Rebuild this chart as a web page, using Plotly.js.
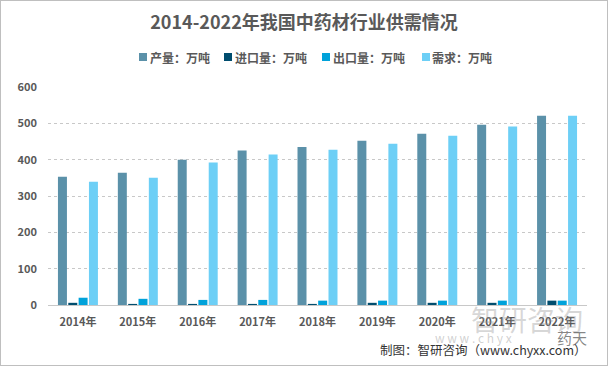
<!DOCTYPE html>
<html>
<head>
<meta charset="utf-8">
<script src="https://cdn.plot.ly/plotly-3.0.1.min.js"></script>
<style>
html,body{margin:0;padding:0;background:#fff;}
#wrap{width:606px;height:364px;border:1px solid #bfbfbf;position:relative;overflow:hidden;}
#chart{width:606px;height:364px;}
</style>
</head>
<body>
<div id="wrap"><div id="chart"></div></div>
<script>
const years = ['2014年','2015年','2016年','2017年','2018年','2019年','2020年','2021年','2022年'];
const production = [353, 364, 400, 425, 435, 452, 471, 496, 521];
const imports = [6, 3, 3, 3, 3, 6, 6, 6, 12];
const exportsV = [20, 17, 14, 14, 12, 12, 12, 12, 12];
const demand = [339, 350, 392, 414, 427, 444, 466, 491, 521];
const seriesNames = ['产量：万吨','进口量：万吨','出口量：万吨','需求：万吨'];
const colors = ['#5B91A9','#004D6E','#00A2DA','#6DCFF6'];

const font = '"Noto Sans CJK SC", "Noto Sans", sans-serif';
const vals = [production, imports, exportsV, demand];
const traces = vals.map((v,i)=>({
  type:'bar', x: years, y: v, name: seriesNames[i],
  marker:{color: colors[i]}, hoverinfo:'skip', showlegend:false
}));

// custom legend (positions in paper coords)
const legSq = [0.1688, 0.3265, 0.5083, 0.6939];
const legTx = [0.1855, 0.3432, 0.5250, 0.7087];
const legY = 1.1376;
const shapes = seriesNames.map((n,i)=>({
  type:'rect', xref:'paper', yref:'paper', xsizemode:'pixel', ysizemode:'pixel',
  xanchor:legSq[i], yanchor:legY, x0:0, x1:8, y0:-4, y1:4,
  fillcolor:colors[i], line:{width:0}
}));
const annotations = seriesNames.map((n,i)=>({
  text:'<b>'+n+'</b>', xref:'paper', yref:'paper', x:legTx[i], y:legY, xanchor:'left', yanchor:'middle',
  showarrow:false, font:{family:font, size:12, color:'#595959'}
}));
annotations.push(
  {text:'智研咨询', xref:'paper', yref:'paper', x:0.782, y:-0.064, xanchor:'left', yanchor:'middle',
   showarrow:false, font:{family:font, size:28, color:'rgba(150,150,150,0.38)'}},
  {text:'w w w . c h y x', xref:'paper', yref:'paper', x:0.715, y:-0.151, xanchor:'left', yanchor:'middle',
   showarrow:false, font:{family:font, size:12, color:'rgba(150,150,150,0.45)'}},
  {text:'药天', xref:'paper', yref:'paper', x:1.0037, y:-0.147, xanchor:'right', yanchor:'middle',
   showarrow:false, font:{family:font, size:15, color:'rgba(80,80,80,0.7)'}},
  {text:'制图：智研咨询（www.chyxx.com）', xref:'paper', yref:'paper', x:1.0037, y:-0.206, xanchor:'right', yanchor:'middle',
   showarrow:false, font:{family:font, size:12.5, color:'#333333'}}
);

const layout = {
  width:606, height:364,
  margin:{l:47, r:20, t:86, b:60},
  paper_bgcolor:'#fff', plot_bgcolor:'#fff',
  barmode:'group', bargap:0.31, bargroupgap:0.13,
  title:{text:'<b>2014-2022年我国中药材行业供需情况</b>', x:0.5, xanchor:'center', y:0.94, yanchor:'middle',
    font:{family:font, size:18, color:'#595959'}},
  showlegend:false,
  xaxis:{type:'category', showgrid:false, showline:false, ticks:'', ticklabelstandoff:9,
    tickfont:{family:font, size:11, color:'#595959', weight:'bold'}},
  yaxis:{range:[0,600], dtick:100, tick0:0, showgrid:true, gridcolor:'#c8c8c8', griddash:'dot',
    zeroline:true, zerolinecolor:'#c8c8c8', ticks:'', ticklabelstandoff:10,
    tickfont:{family:font, size:11, color:'#595959', weight:'bold'}},
  shapes: shapes,
  annotations: annotations
};
Plotly.newPlot('chart', traces, layout, {displayModeBar:false, staticPlot:true});
</script>
</body>
</html>
